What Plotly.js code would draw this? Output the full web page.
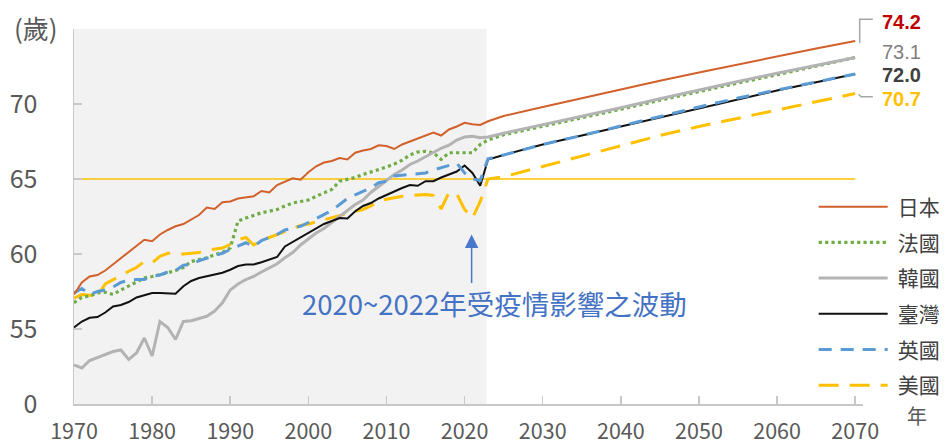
<!DOCTYPE html>
<html>
<head>
<meta charset="utf-8">
<script src="https://cdn.plot.ly/plotly-3.0.1.min.js"></script>
<style>
  html, body { margin: 0; padding: 0; background: #ffffff; }
  #chart { width: 947px; height: 448px; }
</style>
</head>
<body>
<div id="chart"></div>
<script>
// Observed years 1970-2022
const histYears = Array.from({length: 53}, (_, i) => 1970 + i);
// Projection years
const projYears = [2023, 2025, 2030, 2035, 2040, 2045, 2050, 2055, 2060, 2065, 2070];

const seriesNames = ['日本', '法國', '韓國', '臺灣', '英國', '美國'];

// 日本
const japanHist = [57.3, 58.1, 58.5, 58.6, 58.9, 59.3, 59.7, 60.1, 60.5, 60.95,
  60.85, 61.3, 61.6, 61.85, 62.0, 62.3, 62.6, 63.1, 63.0, 63.45,
  63.5, 63.7, 63.75, 63.85, 64.2, 64.1, 64.6, 64.8, 65.05, 64.95,
  65.45, 65.85, 66.1, 66.2, 66.4, 66.3, 66.75, 66.9, 67.0, 67.25,
  67.2, 67.0, 67.3, 67.5, 67.7, 67.9, 68.1, 67.9, 68.3, 68.5,
  68.75, 68.65, 68.6];
const japanProj = [68.85, 69.2, 69.8, 70.4, 70.97, 71.55, 72.1, 72.65, 73.2, 73.7, 74.2];

// 法國
const franceHist = [56.75, 57.1, 57.2, 57.4, 57.45, 57.3, 57.6, 57.85, 58.1, 58.4,
  58.5, 58.6, 58.75, 58.9, 59.1, 59.5, 59.6, 59.75, 59.95, 60.1,
  60.4, 62.2, 62.4, 62.6, 62.75, 62.85, 62.97, 63.2, 63.4, 63.5,
  63.6, 63.85, 64.1, 64.3, 64.85, 64.95, 65.1, 65.3, 65.45, 65.65,
  65.8, 66.0, 66.25, 66.6, 66.8, 66.85, 66.75, 66.3, 66.75, 66.75,
  66.75, 66.75, 67.3];
const franceProj = [67.6, 67.95, 68.5, 69.1, 69.65, 70.25, 70.85, 71.4, 71.95, 72.5, 73.1];

// 韓國
const koreaHist = [52.6, 52.4, 52.9, 53.1, 53.35, 53.5, 53.6, 52.97, 53.4, 54.4,
  53.2, 55.5, 55.1, 54.3, 55.5, 55.55, 55.7, 55.85, 56.2, 56.75,
  57.6, 58.0, 58.3, 58.5, 58.8, 59.1, 59.35, 59.75, 60.1, 60.6,
  61.0, 61.4, 61.7, 62.1, 62.5, 62.9, 63.3, 63.6, 64.1, 64.5,
  64.9, 65.3, 65.6, 65.97, 66.2, 66.5, 66.8, 67.05, 67.25, 67.6,
  67.8, 67.85, 67.75];
const koreaProj = [67.8, 68.05, 68.6, 69.2, 69.75, 70.35, 70.95, 71.5, 72.05, 72.6, 73.1];

// 臺灣
const taiwanHist = [55.1, 55.5, 55.75, 55.8, 56.1, 56.5, 56.6, 56.8, 57.1, 57.25,
  57.4, 57.4, 57.4, 57.35, 57.85, 58.2, 58.4, 58.5, 58.6, 58.75,
  58.95, 59.2, 59.3, 59.3, 59.45, 59.6, 59.8, 60.5, 60.8, 61.1,
  61.35, 61.7, 62.0, 62.2, 62.4, 62.37, 62.85, 63.2, 63.4, 63.7,
  63.95, 64.2, 64.4, 64.6, 64.55, 64.85, 64.85, 65.1, 65.3, 65.5,
  65.9, 65.4, 64.55];
const taiwanProj = [66.3, 66.6, 67.3, 67.9, 68.5, 69.15, 69.75, 70.35, 70.9, 71.45, 72.0];

// 英國
const ukHist = [57.4, 57.7, 57.3, 57.5, 57.6, 57.8, 58.1, 58.25, 58.3, 58.3,
  58.5, 58.6, 58.8, 58.9, 59.25, 59.3, 59.55, 59.7, 59.85, 60.05,
  60.3, 60.5, 60.75, 60.5, 60.9, 61.1, 61.3, 61.6, 61.7, 61.85,
  62.1, 62.35, 62.6, 62.9, 63.3, 63.7, 63.95, 64.2, 64.4, 64.75,
  64.85, 65.2, 65.25, 65.3, 65.4, 65.4, 65.6, 65.75, 65.85, 66.05,
  65.4, 65.0, 64.9];
const ukProj = [66.35, 66.6, 67.3, 67.9, 68.55, 69.15, 69.8, 70.4, 70.95, 71.5, 72.0];

// 美國
const usHist = [57.05, 57.3, 57.25, 57.2, 58.0, 58.3, 58.6, 58.85, 59.1, 59.5,
  59.4, 59.85, 60.05, 60.0, 60.0, 60.05, 60.1, 60.25, 60.3, 60.4,
  60.65, 60.95, 61.1, 60.6, 60.9, 61.1, 61.3, 61.55, 61.75, 61.9,
  62.0, 62.15, 62.25, 62.4, 62.55, 62.7, 62.85, 62.97, 63.2, 63.55,
  63.65, 63.8, 63.85, 63.9, 63.95, 63.97, 63.9, 63.0, 64.1, 64.0,
  62.97, 62.4, 63.5];
const usProj = [65.0, 65.15, 65.85, 66.55, 67.25, 67.9, 68.5, 69.05, 69.6, 70.15, 70.7];

// 65-year reference level
const refAge = 65;
const refYears = [1970, 2070];

// y-axis ticks (bottom tick is the broken-axis zero)
const yTickVals = [50, 55, 60, 65, 70, 75];
const yTickText = ['0', '55', '60', '65', '70', ''];

const FONT = '"Noto Sans CJK TC", "Noto Sans", sans-serif';
const NUM_FONT = '"Liberation Sans", Arial, sans-serif';
const allYears = histYears.concat(projYears);

const styles = [
  {color: '#d2602a', width: 2, dash: 'solid'},
  {color: '#70ad47', width: 3.2, dash: 'dot'},
  {color: '#b3b3b3', width: 3, dash: 'solid'},
  {color: '#111111', width: 2, dash: 'solid'},
  {color: '#5b9bd5', width: 3, dash: '13px,9px'},
  {color: '#ffc000', width: 3, dash: '20px,11px'}
];
const values = [
  japanHist.concat(japanProj),
  franceHist.concat(franceProj),
  koreaHist.concat(koreaProj),
  taiwanHist.concat(taiwanProj),
  ukHist.concat(ukProj),
  usHist.concat(usProj)
];

const traces = [{
  x: refYears, y: refYears.map(() => refAge), mode: 'lines',
  line: {color: '#ffc000', width: 1.4}, showlegend: false, hoverinfo: 'skip'
}];
// draw order, bottom to top
const order = [5, 1, 2, 3, 4, 0];
order.forEach(i => {
  traces.push({
    x: allYears, y: values[i], name: seriesNames[i], mode: 'lines',
    line: styles[i], legendrank: i + 1, legendgroup: 'g' + i
  });
});

const last = arr => arr[arr.length - 1].toFixed(1);
const labelFont = (color) => ({family: NUM_FONT, size: 20, color: color});

const layout = {
  width: 947, height: 448,
  margin: {l: 74, r: 84, t: 29, b: 44, autoexpand: false},
  paper_bgcolor: '#ffffff', plot_bgcolor: '#ffffff',
  font: {family: FONT, color: '#595959'},
  showlegend: true,
  legend: {
    x: 0.9375, xanchor: 'left', y: 0.580, yanchor: 'top',
    font: {family: FONT, size: 21, color: '#404040'},
    itemwidth: 74, tracegroupgap: 5.4, bgcolor: 'rgba(0,0,0,0)',
    traceorder: 'grouped'
  },
  xaxis: {
    range: [1970, 2071], tick0: 1970, dtick: 10,
    showgrid: false, zeroline: false,
    showline: true, linecolor: '#c8c8c8', linewidth: 1.5,
    ticks: 'inside', ticklen: 8, tickcolor: '#c8c8c8', tickwidth: 1.5,
    ticklabelstandoff: 8,
    tickfont: {family: FONT, size: 21.5, color: '#595959'}
  },
  yaxis: {
    range: [50, 75], tickvals: yTickVals, ticktext: yTickText,
    showgrid: false, zeroline: false,
    showline: true, linecolor: '#c8c8c8', linewidth: 1.5,
    ticks: 'inside', ticklen: 8, tickcolor: '#c8c8c8', tickwidth: 1.5,
    ticklabelstandoff: 30,
    tickfont: {family: FONT, size: 25, color: '#595959'}
  },
  shapes: [
    // observed period
    {type: 'rect', xref: 'x', yref: 'paper', x0: 1970, x1: 2022.8, y0: 0, y1: 1,
     fillcolor: '#f2f2f2', line: {width: 0}, layer: 'below'},
    // leader for the 日本 end value
    {type: 'path', xref: 'paper', yref: 'paper',
     path: 'M0.9958,0.963 L0.9958,1.026 L1.0125,1.026',
     line: {color: '#a6a6a6', width: 1.5}},
    // leader for the 美國 end value
    {type: 'path', xref: 'paper', yref: 'paper',
     path: 'M0.9945,0.826 L0.9975,0.8195 L1.0125,0.8195',
     line: {color: '#a6a6a6', width: 1.5}}
  ],
  annotations: [
    {xref: 'paper', yref: 'paper', x: -0.0786, y: 1.003, xanchor: 'left', yanchor: 'middle',
     text: '(歲)', showarrow: false, font: {family: FONT, size: 26, color: '#595959'}},
    {xref: 'paper', yref: 'paper', x: 1.023, y: 1.0195, xanchor: 'left', yanchor: 'middle',
     text: '<b>' + last(japanProj) + '</b>', showarrow: false, borderpad: 0, font: labelFont('#c00000')},
    {xref: 'paper', yref: 'paper', x: 1.023, y: 0.9387, xanchor: 'left', yanchor: 'middle',
     text: last(koreaProj), showarrow: false, borderpad: 0, font: labelFont('#7f7f7f')},
    {xref: 'paper', yref: 'paper', x: 1.023, y: 0.8773, xanchor: 'left', yanchor: 'middle',
     text: '<b>' + last(taiwanProj) + '</b>', showarrow: false, borderpad: 0, font: labelFont('#404040')},
    {xref: 'paper', yref: 'paper', x: 1.023, y: 0.8133, xanchor: 'left', yanchor: 'middle',
     text: '<b>' + last(usProj) + '</b>', showarrow: false, borderpad: 0, font: labelFont('#ffc000')},
    {xref: 'paper', yref: 'paper', x: 1.068, y: -0.031, xanchor: 'center', yanchor: 'middle',
     text: '年', showarrow: false, borderpad: 0, font: {family: FONT, size: 20, color: '#595959'}},
    // pandemic note
    {xref: 'x', yref: 'y', x: 2020.9, y: 61.3, ax: 0, ay: 50, axref: 'pixel', ayref: 'pixel',
     text: '', showarrow: true, arrowhead: 2, arrowsize: 1.8, arrowwidth: 1.5,
     arrowcolor: '#4a78c8', standoff: 0},
    {xref: 'x', yref: 'y', x: 2023.8, y: 56.75, xanchor: 'center', yanchor: 'middle',
     text: '2020~2022年受疫情影響之波動', showarrow: false,
     font: {family: FONT, size: 27.5, color: '#4472c4'}}
  ]
};

Plotly.newPlot('chart', traces, layout, {staticPlot: true, displayModeBar: false}).then(() => {
  // lengthen the legend line samples
  document.querySelectorAll('.legend .legendlines path').forEach(p => {
    p.setAttribute('d', 'M5,0h69');
  });
});
</script>
</body>
</html>
